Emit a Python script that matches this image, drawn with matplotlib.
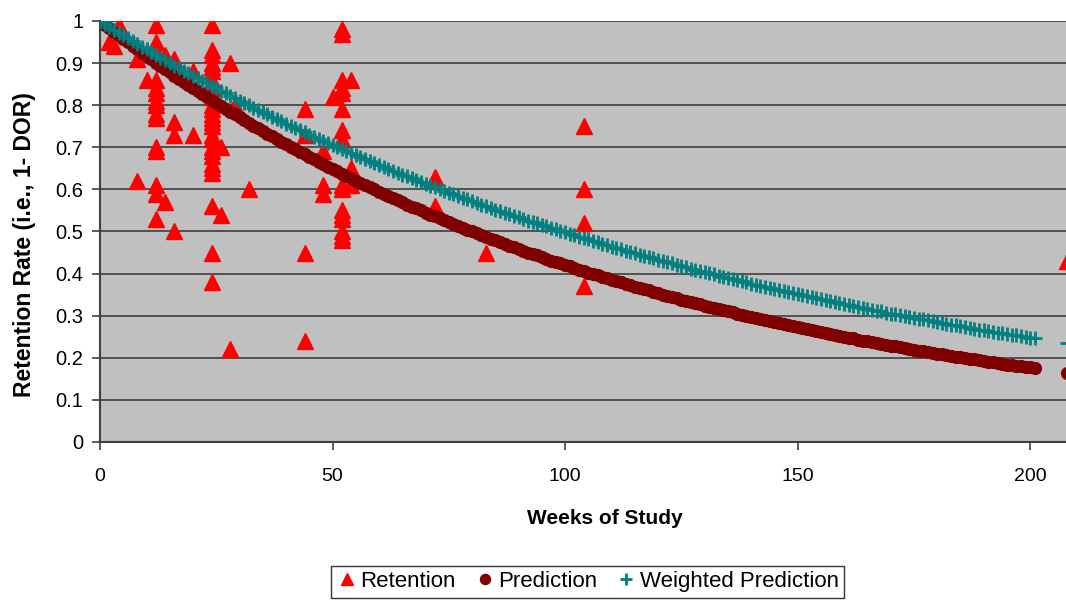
import numpy as np
import matplotlib.pyplot as plt

plt.rcParams['font.family'] = ['Liberation Sans', 'DejaVu Sans']

# observed retention (week, rate)
ret_weeks = [2, 3, 4, 8, 8, 10,
             12, 12, 12, 12, 12, 12, 12, 12, 12, 12, 12, 12, 12, 12, 12,
             14, 14, 16, 16, 16, 16, 20, 20,
             24, 24, 24, 24, 24, 24, 24, 24, 24, 24, 24, 24, 24,
             24, 24, 24, 24, 24, 24, 24, 24, 24, 24, 24, 24, 24,
             26, 26, 28, 28, 29, 32,
             44, 44, 44, 44, 48, 48, 48, 50,
             52, 52, 52, 52, 52, 52, 52, 52, 52, 52, 52, 52, 52, 52, 52, 52,
             54, 54, 54, 72, 72, 83,
             104, 104, 104, 104, 208]
ret_rates = [0.95, 0.94, 0.99, 0.91, 0.62, 0.86,
             0.99, 0.95, 0.93, 0.86, 0.84, 0.83, 0.81, 0.80, 0.78, 0.77, 0.70, 0.69, 0.61, 0.59, 0.53,
             0.92, 0.57, 0.91, 0.76, 0.73, 0.50, 0.88, 0.73,
             0.99, 0.93, 0.92, 0.90, 0.89, 0.88, 0.86, 0.84, 0.82, 0.80, 0.79, 0.78, 0.77,
             0.76, 0.75, 0.73, 0.72, 0.70, 0.69, 0.68, 0.66, 0.65, 0.64, 0.56, 0.45, 0.38,
             0.70, 0.54, 0.90, 0.22, 0.80, 0.60,
             0.79, 0.73, 0.45, 0.24, 0.69, 0.61, 0.59, 0.82,
             0.98, 0.97, 0.86, 0.84, 0.83, 0.79, 0.74, 0.72, 0.61, 0.60, 0.55, 0.54, 0.53, 0.50, 0.49, 0.48,
             0.86, 0.65, 0.61, 0.63, 0.56, 0.45,
             0.75, 0.60, 0.52, 0.37, 0.43]

# model curves, one value per week 0..201, plus the last point at week 208
pred_weeks = list(range(202)) + [208]
prediction = [
    1.000, 0.991, 0.983, 0.974, 0.966, 0.958, 0.949, 0.941, 0.933, 0.925,
    0.917, 0.909, 0.901, 0.893, 0.886, 0.878, 0.870, 0.863, 0.856, 0.848,
    0.841, 0.834, 0.826, 0.819, 0.812, 0.805, 0.798, 0.791, 0.784, 0.778,
    0.771, 0.764, 0.758, 0.751, 0.745, 0.738, 0.732, 0.726, 0.719, 0.713,
    0.707, 0.701, 0.695, 0.689, 0.683, 0.677, 0.671, 0.665, 0.660, 0.654,
    0.648, 0.643, 0.637, 0.632, 0.626, 0.621, 0.615, 0.610, 0.605, 0.600,
    0.594, 0.589, 0.584, 0.579, 0.574, 0.569, 0.564, 0.559, 0.555, 0.550,
    0.545, 0.540, 0.536, 0.531, 0.527, 0.522, 0.517, 0.513, 0.509, 0.504,
    0.500, 0.496, 0.491, 0.487, 0.483, 0.479, 0.475, 0.470, 0.466, 0.462,
    0.458, 0.454, 0.450, 0.447, 0.443, 0.439, 0.435, 0.431, 0.428, 0.424,
    0.420, 0.417, 0.413, 0.409, 0.406, 0.402, 0.399, 0.396, 0.392, 0.389,
    0.385, 0.382, 0.379, 0.375, 0.372, 0.369, 0.366, 0.363, 0.360, 0.356,
    0.353, 0.350, 0.347, 0.344, 0.341, 0.338, 0.335, 0.333, 0.330, 0.327,
    0.324, 0.321, 0.318, 0.316, 0.313, 0.310, 0.308, 0.305, 0.302, 0.300,
    0.297, 0.295, 0.292, 0.290, 0.287, 0.285, 0.282, 0.280, 0.277, 0.275,
    0.272, 0.270, 0.268, 0.265, 0.263, 0.261, 0.259, 0.256, 0.254, 0.252,
    0.250, 0.248, 0.246, 0.243, 0.241, 0.239, 0.237, 0.235, 0.233, 0.231,
    0.229, 0.227, 0.225, 0.223, 0.221, 0.219, 0.217, 0.216, 0.214, 0.212,
    0.210, 0.208, 0.206, 0.205, 0.203, 0.201, 0.199, 0.198, 0.196, 0.194,
    0.193, 0.191, 0.189, 0.188, 0.186, 0.184, 0.183, 0.181, 0.180, 0.178,
    0.177, 0.175, 0.165]
weighted = [
    1.000, 0.993, 0.986, 0.979, 0.972, 0.966, 0.959, 0.952, 0.946, 0.939,
    0.933, 0.926, 0.920, 0.913, 0.907, 0.901, 0.894, 0.888, 0.882, 0.876,
    0.870, 0.864, 0.858, 0.852, 0.846, 0.840, 0.834, 0.828, 0.822, 0.817,
    0.811, 0.805, 0.800, 0.794, 0.789, 0.783, 0.778, 0.772, 0.767, 0.762,
    0.756, 0.751, 0.746, 0.741, 0.736, 0.730, 0.725, 0.720, 0.715, 0.710,
    0.705, 0.700, 0.696, 0.691, 0.686, 0.681, 0.676, 0.672, 0.667, 0.662,
    0.658, 0.653, 0.649, 0.644, 0.640, 0.635, 0.631, 0.626, 0.622, 0.618,
    0.613, 0.609, 0.605, 0.601, 0.597, 0.592, 0.588, 0.584, 0.580, 0.576,
    0.572, 0.568, 0.564, 0.560, 0.556, 0.552, 0.549, 0.545, 0.541, 0.537,
    0.534, 0.530, 0.526, 0.522, 0.519, 0.515, 0.512, 0.508, 0.505, 0.501,
    0.498, 0.494, 0.491, 0.487, 0.484, 0.481, 0.477, 0.474, 0.471, 0.467,
    0.464, 0.461, 0.458, 0.454, 0.451, 0.448, 0.445, 0.442, 0.439, 0.436,
    0.433, 0.430, 0.427, 0.424, 0.421, 0.418, 0.415, 0.412, 0.409, 0.406,
    0.404, 0.401, 0.398, 0.395, 0.392, 0.390, 0.387, 0.384, 0.382, 0.379,
    0.376, 0.374, 0.371, 0.369, 0.366, 0.363, 0.361, 0.358, 0.356, 0.353,
    0.351, 0.349, 0.346, 0.344, 0.341, 0.339, 0.337, 0.334, 0.332, 0.330,
    0.327, 0.325, 0.323, 0.321, 0.318, 0.316, 0.314, 0.312, 0.310, 0.307,
    0.305, 0.303, 0.301, 0.299, 0.297, 0.295, 0.293, 0.291, 0.289, 0.287,
    0.285, 0.283, 0.281, 0.279, 0.277, 0.275, 0.273, 0.271, 0.269, 0.267,
    0.265, 0.264, 0.262, 0.260, 0.258, 0.256, 0.255, 0.253, 0.251, 0.249,
    0.248, 0.246, 0.235]

fig = plt.figure(figsize=(10.66, 6.01), dpi=100)
ax = fig.add_axes([0.0938, 0.2646, 0.9062, 0.7005])
ax.set_facecolor('#C0C0C0')

ax.plot(ret_weeks, ret_rates, linestyle='none', marker='^', markersize=11,
        color='#FF0000', label='Retention', zorder=2)
ax.plot(pred_weeks, prediction, linestyle='none', marker='o', markersize=8.5,
        color='#800000', label='Prediction', zorder=3)
ax.plot(pred_weeks, weighted, linestyle='none', marker='+', markersize=10,
        markeredgewidth=2, color='#008080', label='Weighted Prediction', zorder=4)

ax.set_xlim(0, 207.7)
ax.set_ylim(0, 1)
ax.set_xticks([0, 50, 100, 150, 200])
ax.set_yticks(np.arange(0, 1.01, 0.1))
ax.set_yticklabels(['0', '0.1', '0.2', '0.3', '0.4', '0.5', '0.6', '0.7', '0.8', '0.9', '1'])
ax.yaxis.grid(True, color='#505050', linewidth=1.4)
ax.set_axisbelow(True)

for side in ['top', 'right']:
    ax.spines[side].set_visible(False)
for side in ['left', 'bottom']:
    ax.spines[side].set_color('#404040')
    ax.spines[side].set_linewidth(1.5)

ax.tick_params(axis='y', direction='out', length=6, width=1.2, color='#404040',
               labelsize=14.5, pad=6)
ax.tick_params(axis='x', direction='out', length=6, width=1.2, color='#404040',
               labelsize=14, pad=13)

ax.set_xlabel('Weeks of Study', fontsize=15, fontweight='bold')
ax.xaxis.set_label_coords(0.523, -0.16)
ax.set_ylabel('Retention Rate (i.e., 1- DOR)', fontsize=16.5, fontweight='bold')
ax.yaxis.set_label_coords(-0.066, 0.468)

leg = fig.legend(loc='upper center', bbox_to_anchor=(0.551, 0.059), ncol=3,
                 fontsize=16, frameon=True, fancybox=False, edgecolor='black',
                 handletextpad=0.1, columnspacing=0.8, handlelength=1.0,
                 borderpad=0.25, borderaxespad=0, markerscale=0.85)
leg.get_frame().set_linewidth(1.0)

fig.savefig('out.png', dpi=100)
